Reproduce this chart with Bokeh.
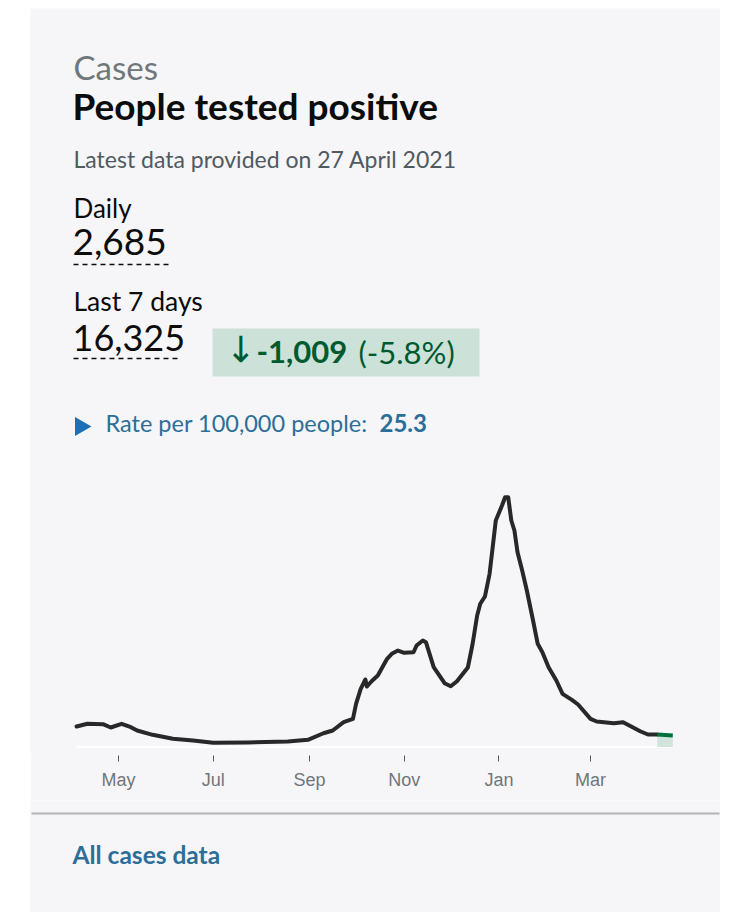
import pandas as pd
from bokeh.plotting import figure
from bokeh.models import Range1d, DatetimeAxis, FixedTicker, DatetimeTickFormatter, Spacer
from bokeh.layouts import row, column
from bokeh.embed import file_html
from bokeh.resources import INLINE
from bokeh.core.properties import value

# ---------------- data ----------------
dates = ["2020-04-04", "2020-04-11", "2020-04-21", "2020-04-26", "2020-05-03", "2020-05-09",
         "2020-05-13", "2020-05-23", "2020-06-05", "2020-06-18", "2020-07-01", "2020-07-23",
         "2020-08-18", "2020-08-31", "2020-09-10", "2020-09-16", "2020-09-23", "2020-09-29",
         "2020-10-01", "2020-10-04", "2020-10-07", "2020-10-08", "2020-10-11", "2020-10-15",
         "2020-10-21", "2020-10-24", "2020-10-28", "2020-11-01", "2020-11-07", "2020-11-09",
         "2020-11-13", "2020-11-15", "2020-11-20", "2020-11-27", "2020-12-01", "2020-12-05",
         "2020-12-12", "2020-12-15", "2020-12-18", "2020-12-20", "2020-12-23", "2020-12-26",
         "2020-12-28", "2020-12-30", "2021-01-03", "2021-01-05", "2021-01-07", "2021-01-09",
         "2021-01-11", "2021-01-13", "2021-01-16", "2021-01-19", "2021-01-23", "2021-01-26",
         "2021-01-29", "2021-02-02", "2021-02-07", "2021-02-11", "2021-02-17", "2021-02-21",
         "2021-03-01", "2021-03-05", "2021-03-16", "2021-03-22", "2021-03-26", "2021-04-02",
         "2021-04-07", "2021-04-13"]
cases = [4910, 5560, 5460, 4670, 5560, 4740,
         3950, 2920, 1960, 1560, 1010, 1080,
         1320, 1720, 3300, 3950, 5940, 6750,
         10350, 13940, 16170, 14490, 15760, 17120,
         21120, 22320, 23110, 22560, 22700, 24310,
         25510, 25100, 19110, 15280, 14560, 15760,
         19040, 24550, 31490, 34300, 36040, 41480,
         47850, 54250, 57840, 59830, 59830, 54250,
         51850, 46650, 42270, 37480, 30300, 24720,
         22700, 19110, 15930, 12740, 11300, 10180,
         6750, 6110, 5700, 5940, 5150, 3780,
         2990, 2990]
recent_dates = ["2021-04-13", "2021-04-18", "2021-04-23"]
recent_cases = [2990, 2880, 2750]

tick_dates = ["2020-05-01", "2020-07-01", "2020-09-01", "2020-11-01", "2021-01-01", "2021-03-01"]

section = "Cases"
title = "People tested positive"
updated = "Latest data provided on 27 April 2021"
daily_label, daily_value = "Daily", "2,685"
week_label, week_value = "Last 7 days", "16,325"
change_arrow, change_value, change_pct = "\u2193", "-1,009", "(-5.8%)"
rate_label, rate_value = "Rate per 100,000 people:", "25.3"
footer_link = "All cases data"

# ---------------- styling ----------------
CARD = "#f6f5f8"
FONT = "Lato"
BLACK = "#0b0c0c"
GREY = "#6f777b"
DARK_GREY = "#505a5f"
LINK = "#2b6f98"
GREEN = "#005a30"

# pixel anchors of the time axis (page coordinates)
X_LEFT, X_RIGHT = 30, 720
TOP, FRAME_BOTTOM = 8, 755
ZERO_Y, PEAK_Y = 746.5, 496.7

t_may = pd.Timestamp("2020-05-01")
t_mar = pd.Timestamp("2021-03-01")
px_per_ms = (590 - 118) / ((t_mar - t_may).total_seconds() * 1000)
may_ms = t_may.value / 1e6
date_start = may_ms - (118 - X_LEFT) / px_per_ms
date_end = may_ms + (X_RIGHT - 118) / px_per_ms

cases_per_px = max(cases) / (ZERO_Y - PEAK_Y)
y_start = -(FRAME_BOTTOM - ZERO_Y) * cases_per_px
y_end = (ZERO_Y - TOP) * cases_per_px

p = figure(width=690, height=792, output_backend="svg", toolbar_location=None,
           x_range=Range1d(X_LEFT, X_RIGHT), y_range=Range1d(FRAME_BOTTOM, TOP),
           x_axis_location=None, y_axis_location=None,
           min_border_left=0, min_border_right=0, min_border_top=0, min_border_bottom=45,
           background_fill_color=CARD, border_fill_color=CARD, outline_line_color=None)
p.grid.visible = False
p.extra_x_ranges = {"date": Range1d(date_start, date_end)}
p.extra_y_ranges = {"cases": Range1d(y_start, y_end)}


def txt(fig, x, y, s, size, color, bold=False, font=FONT):
    fig.text(x=[x], y=[y], text=[s], text_font=value(font), text_font_size=size,
             text_color=color, text_font_style="bold" if bold else "normal",
             text_baseline="alphabetic", text_align="left")


txt(p, 73, 66, section, "33px", GREY)
txt(p, 72, 105, title, "37px", BLACK, bold=True)
txt(p, 73, 158.5, updated, "23px", DARK_GREY)
txt(p, 73, 207, daily_label, "26px", BLACK)
txt(p, 72, 241.5, daily_value, "37px", BLACK)
p.segment(x0=[73], x1=[168], y0=[264], y1=[264], line_color=BLACK, line_width=1.5, line_dash="5 4")
txt(p, 73, 300, week_label, "26.5px", BLACK)
txt(p, 72, 337, week_value, "36px", BLACK)
p.segment(x0=[73], x1=[181], y0=[358], y1=[358], line_color=BLACK, line_width=1.5, line_dash="5 4")

p.quad(left=[212], right=[479], top=[328], bottom=[376], fill_color="#cce2d8", line_color=None)
txt(p, 225, 348.5, change_arrow, "36px", GREEN, font="DejaVu Sans")
txt(p, 256, 351.5, change_value, "31px", GREEN, bold=True)
txt(p, 358, 351.5, change_pct, "31px", GREEN)

p.scatter(x=[80], y=[426], marker="triangle", size=19, angle=-90, angle_units="deg",
          fill_color="#1d70b8", line_color=None)
txt(p, 105, 422, rate_label, "23.5px", LINK)
txt(p, 379, 422, rate_value, "24px", LINK, bold=True)

# chart
p.segment(x0=[pd.Timestamp(dates[0])], x1=[pd.Timestamp(recent_dates[-1])], y0=[0], y1=[0],
          x_range_name="date", y_range_name="cases", line_color="white", line_width=2)
p.varea(x=pd.to_datetime(recent_dates), y1=[0] * len(recent_cases), y2=recent_cases,
        x_range_name="date", y_range_name="cases", fill_color="#cce2d8", fill_alpha=0.9)
p.line(x=pd.to_datetime(dates), y=cases, x_range_name="date", y_range_name="cases",
       line_color="#272828", line_width=4, line_join="round", line_cap="round")
p.line(x=pd.to_datetime(recent_dates), y=recent_cases, x_range_name="date", y_range_name="cases",
       line_color="#00703c", line_width=4, line_join="round")

ax = DatetimeAxis(x_range_name="date",
                  ticker=FixedTicker(ticks=[pd.Timestamp(d).value / 1e6 for d in tick_dates]),
                  formatter=DatetimeTickFormatter(days="%b", months="%b", years="%b"))
ax.axis_line_color = None
ax.major_tick_in = 0
ax.major_tick_out = 6
ax.major_tick_line_color = DARK_GREY
ax.minor_tick_line_color = None
ax.major_label_standoff = 8
ax.major_label_text_font = "Liberation Sans"
ax.major_label_text_font_size = "18px"
ax.major_label_text_color = GREY
p.add_layout(ax, "below")

# footer
f = figure(width=690, height=112, output_backend="svg", toolbar_location=None,
           x_range=Range1d(X_LEFT, X_RIGHT), y_range=Range1d(912, 800),
           x_axis_location=None, y_axis_location=None,
           min_border_left=0, min_border_right=0, min_border_top=0, min_border_bottom=0,
           background_fill_color=CARD, border_fill_color=CARD, outline_line_color=None)
f.grid.visible = False
f.segment(x0=[31], x1=[719], y0=[813], y1=[813], line_color="#b1b4b6", line_width=2)
txt(f, 72, 854, footer_link, "24.5px", LINK, bold=True)

layout = row(Spacer(width=30, height=922),
             column(Spacer(width=690, height=8), p, f, Spacer(width=690, height=10)),
             Spacer(width=30, height=922))

open("out.html", "w").write(file_html(layout, INLINE))
